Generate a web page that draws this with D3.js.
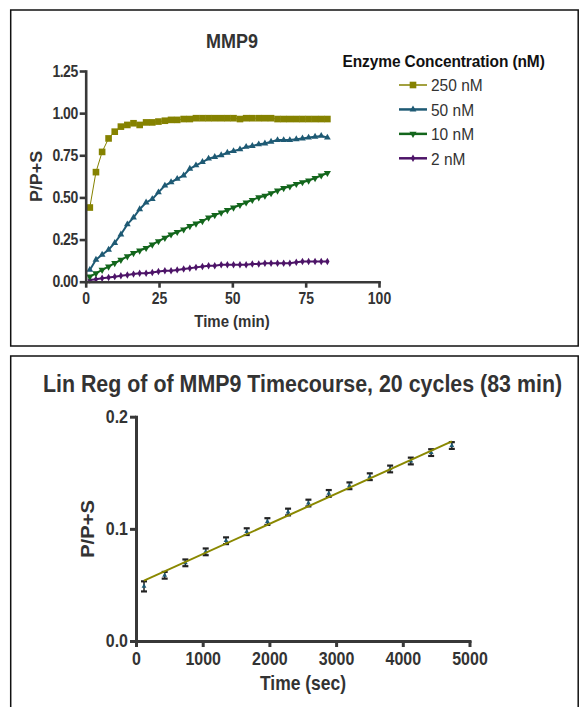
<!DOCTYPE html>
<html lang="en">
<head>
<meta charset="utf-8">
<title>MMP9 timecourse</title>
<style>
html,body {padding:0; margin:0; background:#fff;}
svg {display:block; font-family:"Liberation Sans", Arial, Helvetica, sans-serif;}
</style>
<script src="https://cdn.jsdelivr.net/npm/d3@7"></script>
</head>
<body>
<script>
// top panel: P/P+S vs time (min), one series per enzyme concentration
var timeMin = [1.4, 3.5, 5.6, 7.8, 9.9, 12.0, 14.2, 16.3, 18.4, 20.6, 22.7, 24.8, 27.0, 29.1, 31.2, 33.4, 35.5, 37.6, 39.8, 41.9,
  44.0, 46.2, 48.3, 50.4, 52.6, 54.7, 56.8, 59.0, 61.1, 63.2, 65.4, 67.5, 69.6, 71.8, 73.9, 76.0, 78.2, 80.3, 82.4]
var nm250 = [0.44, 0.65, 0.77, 0.85, 0.89, 0.92, 0.93, 0.94, 0.93, 0.945, 0.945, 0.95, 0.955, 0.96, 0.96, 0.965, 0.965, 0.97, 0.97, 0.97,
  0.97, 0.97, 0.97, 0.97, 0.965, 0.97, 0.97, 0.97, 0.97, 0.97, 0.965, 0.965, 0.965, 0.965, 0.965, 0.965, 0.965, 0.965, 0.965]
var nm50 = [0.07, 0.13, 0.16, 0.19, 0.23, 0.28, 0.34, 0.38, 0.43, 0.47, 0.49, 0.53, 0.57, 0.59, 0.61, 0.63, 0.67, 0.69, 0.71, 0.73,
  0.74, 0.75, 0.765, 0.775, 0.785, 0.80, 0.805, 0.815, 0.82, 0.83, 0.84, 0.84, 0.84, 0.845, 0.85, 0.855, 0.86, 0.865, 0.855]
var nm10 = [0.03, 0.05, 0.07, 0.09, 0.11, 0.13, 0.15, 0.17, 0.185, 0.20, 0.22, 0.24, 0.26, 0.28, 0.295, 0.31, 0.33, 0.345, 0.36, 0.38,
  0.395, 0.41, 0.425, 0.44, 0.455, 0.47, 0.485, 0.50, 0.51, 0.525, 0.54, 0.555, 0.565, 0.58, 0.59, 0.60, 0.615, 0.63, 0.645]
var nm2 = [0.01, 0.015, 0.02, 0.025, 0.03, 0.035, 0.04, 0.045, 0.05, 0.05, 0.055, 0.06, 0.065, 0.065, 0.07, 0.075, 0.08, 0.085, 0.09, 0.095,
  0.095, 0.10, 0.10, 0.10, 0.10, 0.10, 0.105, 0.105, 0.11, 0.11, 0.11, 0.11, 0.11, 0.115, 0.12, 0.12, 0.12, 0.12, 0.12]
var seriesNames = ['250 nM', '50 nM', '10 nM', '2 nM']
var topXTicks = [0, 25, 50, 75, 100]
var topYTicks = [0, 0.25, 0.5, 0.75, 1.0, 1.25]

// bottom panel: linear regression over 2 nM points (sec)
var timeSec = [120, 430, 740, 1045, 1350, 1660, 1970, 2280, 2585, 2890, 3200, 3505, 3810, 4120, 4425, 4735]
var ratio = [0.0487, 0.0586, 0.0697, 0.0795, 0.0894, 0.0975, 0.1065, 0.115, 0.123, 0.1316, 0.1384, 0.1465, 0.1534, 0.1605, 0.168, 0.1743]
var ratioErr = [0.0045, 0.003, 0.003, 0.003, 0.003, 0.003, 0.003, 0.003, 0.003, 0.003, 0.003, 0.003, 0.003, 0.003, 0.003, 0.003]
var fitEnds = [[120, 0.0538], [4735, 0.178]]
var botXTicks = [0, 1000, 2000, 3000, 4000, 5000]
var botYTicks = [0, 0.1, 0.2]

var W = 579, H = 707
var K = 1.12   // the source picture is a bit taller than wide, text too
var axisCol = '#383838'
var svg = d3.select('body').append('svg').attr('width', W).attr('height', H)

// panel frames
svg.append('rect').attr('x', 10.7).attr('y', 10).attr('width', 567.5).attr('height', 336)
  .attr('fill', 'none').attr('stroke', '#111').attr('stroke-width', 1.5)
svg.append('rect').attr('x', 10.7).attr('y', 356).attr('width', 567.5).attr('height', 380)
  .attr('fill', 'none').attr('stroke', '#111').attr('stroke-width', 1.5)

// move x/y into a transform and stretch the glyphs vertically
function stretch(sel, rot) {
  sel.each(function() {
    var t = d3.select(this)
    var x = +t.attr('x') || 0, y = +t.attr('y') || 0
    t.attr('x', null).attr('y', null)
      .attr('transform', 'translate(' + x + ',' + y + ') scale(1,' + K + ')' + (rot ? ' rotate(' + rot + ')' : ''))
  })
}

function label(x, y, size, txt, opt) {
  opt = opt || {}
  var t = svg.append('text').attr('x', x).attr('y', y).attr('text-anchor', opt.anchor || 'middle')
    .attr('font-size', size).attr('font-weight', opt.weight || 'bold').attr('fill', opt.fill || '#333').text(txt)
  if (opt.ls) t.attr('letter-spacing', opt.ls)
  stretch(t, opt.rot)
  return t
}

function styleAxis(g, size, sw) {
  g.select('.domain').attr('stroke', axisCol).attr('stroke-width', sw).attr('stroke-linecap', 'square')
  g.selectAll('.tick line').attr('stroke', axisCol).attr('stroke-width', sw)
  g.selectAll('.tick text').attr('fill', '#333').attr('font-size', size).attr('font-weight', 'bold')
    .attr('font-family', '"Liberation Sans", Arial, Helvetica, sans-serif')
  stretch(g.selectAll('.tick text'))
}

// ---------- top chart ----------
var x1 = d3.scaleLinear().domain([0, 100]).range([85.7, 379])
var y1 = d3.scaleLinear().domain([0, 1.25]).range([281.7, 71])

var series = [
  {name: seriesNames[0], vals: nm250, color: '#858200', sym: d3.symbolSquare, size: 44, lw: 1, rot: 0},
  {name: seriesNames[1], vals: nm50, color: '#1e5a74', sym: d3.symbolTriangle, size: 20, lw: 2, rot: 0},
  {name: seriesNames[2], vals: nm10, color: '#13661c', sym: d3.symbolTriangle, size: 22, lw: 2, rot: 180},
  {name: seriesNames[3], vals: nm2, color: '#4d1468', sym: d3.symbolDiamond, size: 16, lw: 2, rot: 0}
]

var line1 = d3.line().x(function(d) { return x1(d[0]) }).y(function(d) { return y1(d[1]) })
var plot1 = svg.append('g')
series.slice().reverse().forEach(function(s) {
  var pts = timeMin.map(function(t, i) { return [t, s.vals[i]] })
  plot1.append('path').datum(pts).attr('d', line1).attr('fill', 'none')
    .attr('stroke', s.color).attr('stroke-width', s.lw)
  plot1.selectAll(null).data(pts).enter().append('path')
    .attr('d', d3.symbol().type(s.sym).size(s.size))
    .attr('transform', function(d) { return 'translate(' + x1(d[0]) + ',' + y1(d[1]) + ') rotate(' + s.rot + ')' })
    .attr('fill', s.color)
})

var gx1 = svg.append('g').attr('transform', 'translate(0,281.7)')
  .call(d3.axisBottom(x1).tickValues(topXTicks).tickFormat(d3.format('d')).tickSize(6).tickSizeOuter(0).tickPadding(5))
styleAxis(gx1, 14, 2.6)
var gy1 = svg.append('g').attr('transform', 'translate(85.7,0)')
  .call(d3.axisLeft(y1).tickValues(topYTicks).tickFormat(d3.format('.2f')).tickSize(6).tickSizeOuter(0).tickPadding(2))
gy1.selectAll('.tick text').attr('letter-spacing', -0.5)
styleAxis(gy1, 14, 2.6)

label(232, 48, 18, 'MMP9')
label(232, 327, 15, 'Time (min)')
label(42, 176.5, 16, 'P/P+S', {rot: -90})

// legend
label(342.5, 66.5, 15.5, 'Enzyme Concentration (nM)', {anchor: 'start', fill: '#111', ls: -0.1})
var legY = d3.scalePoint().domain(seriesNames).range([85, 158.3])
series.forEach(function(s) {
  var ly = legY(s.name)
  svg.append('line').attr('x1', 399).attr('x2', 427).attr('y1', ly).attr('y2', ly)
    .attr('stroke', s.color).attr('stroke-width', s.lw + 0.5)
  svg.append('path').attr('d', d3.symbol().type(s.sym).size(s.size)).attr('fill', s.color)
    .attr('transform', 'translate(413,' + ly + ') rotate(' + s.rot + ')')
  label(431, ly + 5.6 * K, 15.5, s.name, {anchor: 'start', weight: 'normal'})
})

// ---------- bottom chart ----------
var x2 = d3.scaleLinear().domain([0, 5000]).range([136, 469.5])
var y2 = d3.scaleLinear().domain([0, 0.2]).range([641, 416.7])

var plot2 = svg.append('g')
var bars = plot2.selectAll(null).data(timeSec.map(function(t, i) { return [t, ratio[i], ratioErr[i]] })).enter().append('g')
bars.append('line').attr('x1', function(d) { return x2(d[0]) }).attr('x2', function(d) { return x2(d[0]) })
  .attr('y1', function(d) { return y2(d[1] - d[2]) }).attr('y2', function(d) { return y2(d[1] + d[2]) })
  .attr('stroke', '#222').attr('stroke-width', 1.5)
bars.selectAll(null).data(function(d) { return [[d[0], d[1] - d[2]], [d[0], d[1] + d[2]]] }).enter().append('line')
  .attr('x1', function(d) { return x2(d[0]) - 3 }).attr('x2', function(d) { return x2(d[0]) + 3 })
  .attr('y1', function(d) { return y2(d[1]) }).attr('y2', function(d) { return y2(d[1]) })
  .attr('stroke', '#222').attr('stroke-width', 2.2)
bars.append('path').attr('d', d3.symbol().type(d3.symbolTriangle).size(10)).attr('fill', '#1e5a74')
  .attr('transform', function(d) { return 'translate(' + x2(d[0]) + ',' + y2(d[1]) + ')' })

plot2.append('path').datum(fitEnds)
  .attr('d', d3.line().x(function(d) { return x2(d[0]) }).y(function(d) { return y2(d[1]) }))
  .attr('fill', 'none').attr('stroke', '#8a8800').attr('stroke-width', 2)

var gx2 = svg.append('g').attr('transform', 'translate(0,641)')
  .call(d3.axisBottom(x2).tickValues(botXTicks).tickFormat(d3.format('d')).tickSize(6).tickSizeOuter(0).tickPadding(5))
styleAxis(gx2, 16, 3)
var gy2 = svg.append('g').attr('transform', 'translate(136,0)')
  .call(d3.axisLeft(y2).tickValues(botYTicks).tickFormat(d3.format('.1f')).tickSize(6).tickSizeOuter(0).tickPadding(2))
styleAxis(gy2, 16, 3)

label(302.5, 392, 21.4, 'Lin Reg of of MMP9 Timecourse, 20 cycles (83 min)')
label(303, 690, 17.5, 'Time (sec)')
label(94, 529, 18, 'P/P+S', {rot: -90})
</script>
</body>
</html>
